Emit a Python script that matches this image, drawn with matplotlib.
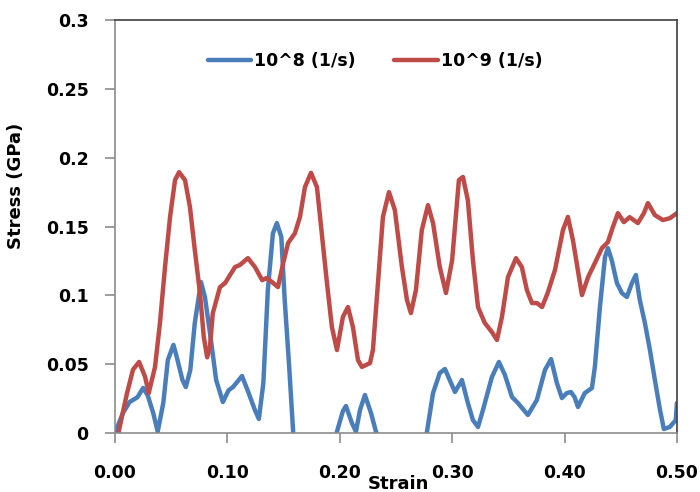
import matplotlib.pyplot as plt

# strain / stress (stress in GPa)
# 10^8 curve, split where it drops below the axis
strain_8 = [0.000, 0.007, 0.013, 0.020, 0.025, 0.029, 0.034, 0.038, 0.043,
            0.047, 0.052, 0.055, 0.060, 0.063, 0.067, 0.071, 0.0765, 0.080,
            0.085, 0.090, 0.096, 0.101, 0.105, 0.113, 0.118, 0.1245, 0.128,
            0.132, 0.136, 0.1405, 0.144, 0.148, 0.151, 0.155, 0.1585, 0.162]
stress_8 = [0.000, 0.0145, 0.0225, 0.026, 0.0327, 0.0276, 0.0145, 0.001, 0.022,
            0.053, 0.064, 0.055, 0.0385, 0.0334, 0.0458, 0.080, 0.1097, 0.0988,
            0.0697, 0.0385, 0.0225, 0.031, 0.0334, 0.0414, 0.031, 0.0167, 0.0102,
            0.0363, 0.1039, 0.145, 0.1525, 0.1424, 0.0966, 0.048, 0.001, -0.04]

strain_8b = [0.194, 0.1975, 0.2028, 0.2055, 0.2108, 0.2144, 0.218, 0.2224,
             0.2278, 0.2322, 0.236]
stress_8b = [-0.012, 0.001, 0.016, 0.0196, 0.0073, 0.001, 0.0167, 0.0276,
             0.0145, 0.001, -0.012]

strain_8c = [0.274, 0.2776, 0.283, 0.289, 0.2936, 0.299, 0.3025, 0.3087,
             0.314, 0.3185, 0.323, 0.3274, 0.3354, 0.3416, 0.347, 0.3532,
             0.3585, 0.3674, 0.3754, 0.3826, 0.388, 0.3932, 0.3977, 0.402,
             0.4057, 0.409, 0.412, 0.418, 0.4244, 0.427, 0.4315, 0.436, 0.4386,
             0.442, 0.4466, 0.451, 0.4555, 0.460, 0.4635, 0.467, 0.4715, 0.476,
             0.4804, 0.485, 0.4884, 0.4937, 0.499, 0.500]
stress_8c = [-0.012, 0.001, 0.029, 0.0436, 0.0465, 0.0363, 0.0298, 0.0385,
             0.0218, 0.0094, 0.0044, 0.0167, 0.0407, 0.0516, 0.0421, 0.0262,
             0.0218, 0.0131, 0.024, 0.0458, 0.0537, 0.0363, 0.0254, 0.029,
             0.0298, 0.026, 0.0189, 0.029, 0.0327, 0.048, 0.0915, 0.1278, 0.1343,
             0.1256, 0.109, 0.1017, 0.0988, 0.109, 0.1148, 0.0966, 0.080, 0.0603,
             0.0385, 0.0167, 0.0029, 0.0044, 0.0094, 0.0218]

# 10^9 curve
strain_9 = [0.003, 0.0107, 0.016, 0.0214, 0.0267, 0.030, 0.0356, 0.040, 0.0445,
            0.049, 0.0534, 0.057, 0.0623, 0.0667, 0.071, 0.0756, 0.079, 0.082,
            0.0845, 0.087, 0.0934, 0.098, 0.1068, 0.111, 0.1183, 0.1245, 0.131,
            0.135, 0.1397, 0.145, 0.1497, 0.154, 0.160, 0.1646, 0.169, 0.1744,
            0.1797, 0.184, 0.1886, 0.193, 0.1975, 0.2028, 0.2073, 0.2117, 0.2162,
            0.2197, 0.2269, 0.2295, 0.234, 0.2384, 0.2438, 0.249, 0.2553, 0.2598,
            0.2633, 0.2678, 0.273, 0.2785, 0.283, 0.289, 0.2945, 0.300, 0.306,
            0.3096, 0.314, 0.3185, 0.323, 0.329, 0.3354, 0.3399, 0.3443, 0.3497,
            0.3568, 0.362, 0.3665, 0.371, 0.3754, 0.380, 0.385, 0.3915, 0.3986,
            0.403, 0.4075, 0.4155, 0.421, 0.427, 0.4333, 0.4386, 0.443, 0.4475,
            0.4528, 0.458, 0.4653, 0.4706, 0.4742, 0.4804, 0.4875, 0.4937, 0.500]
stress_9 = [0.000, 0.029, 0.046, 0.0516, 0.041, 0.029, 0.048, 0.080, 0.1206,
            0.157, 0.1837, 0.1895, 0.1837, 0.164, 0.133, 0.1017, 0.0697, 0.055,
            0.0625, 0.087, 0.106, 0.109, 0.1206, 0.122, 0.127, 0.1206, 0.111,
            0.1126, 0.1097, 0.106, 0.1235, 0.138, 0.145, 0.157, 0.1786, 0.189,
            0.1786, 0.145, 0.109, 0.077, 0.0603, 0.0843, 0.0915, 0.077, 0.053,
            0.048, 0.0508, 0.0603, 0.109, 0.157, 0.175, 0.162, 0.1206, 0.0966,
            0.0871, 0.1039, 0.1474, 0.1655, 0.1525, 0.1206, 0.1017, 0.1256, 0.1837,
            0.186, 0.169, 0.1256, 0.0915, 0.080, 0.0733, 0.0676, 0.0843, 0.1133,
            0.127, 0.1206, 0.1039, 0.0944, 0.0944, 0.0915, 0.1017, 0.1184, 0.1474,
            0.157, 0.140, 0.1002, 0.1133, 0.1235, 0.1343, 0.1387, 0.1496, 0.1597,
            0.1532, 0.1568, 0.1525, 0.1597, 0.167, 0.1583, 0.1547, 0.156, 0.1597]

xticks = [0.0, 0.1, 0.2, 0.3, 0.4, 0.5]
xtick_labels = ['0.00', '0.10', '0.20', '0.30', '0.40', '0.50']
yticks = [0, 0.05, 0.1, 0.15, 0.2, 0.25, 0.3]
ytick_labels = ['0', '0.05', '0.1', '0.15', '0.2', '0.25', '0.3']

BLUE = '#4a7ebb'
RED = '#be4b48'

fig = plt.figure(figsize=(7, 4.92), dpi=100)
ax = fig.add_axes([0.1643, 0.1199, 0.8027, 0.8394])

kw = dict(lw=3.2, solid_joinstyle='round', solid_capstyle='round')
ax.plot(strain_8, stress_8, color=BLUE, label='10^8 (1/s)', **kw)
ax.plot(strain_8b, stress_8b, color=BLUE, **kw)
ax.plot(strain_8c, stress_8c, color=BLUE, **kw)
ax.plot(strain_9, stress_9, color=RED, label='10^9 (1/s)', **kw)

ax.set_xlim(0, 0.5)
ax.set_ylim(0, 0.3)
ax.set_xticks(xticks, xtick_labels)
ax.set_yticks(yticks, ytick_labels)
ax.tick_params(direction='out', length=7, width=1.2, color='#8c8c8c',
               labelsize=12.5)
ax.tick_params(axis='x', pad=15)
ax.tick_params(axis='y', pad=12)
for lab in ax.get_xticklabels() + ax.get_yticklabels():
    lab.set_fontweight('bold')

for side in ['left', 'bottom']:
    ax.spines[side].set_color('#8c8c8c')
    ax.spines[side].set_linewidth(1.2)
for side in ['top', 'right']:
    ax.spines[side].set_color('#404040')
    ax.spines[side].set_linewidth(1.2)

ax.set_ylabel('Stress (GPa)', fontsize=13, fontweight='bold')
ax.yaxis.set_label_coords(-0.16, 0.598)
ax.set_xlabel('Strain', fontsize=13, fontweight='bold', va='baseline')
ax.xaxis.set_label_coords(0.505, -0.136)

leg = ax.legend(loc='upper center', bbox_to_anchor=(0.463, 0.96), ncol=2,
                frameon=False, handlelength=2.5, handletextpad=0.2,
                columnspacing=2.2, prop={'size': 12.5, 'weight': 'bold'})
for h in leg.get_lines():
    h.set_linewidth(3.2)

fig.savefig('out.png', dpi=100)
